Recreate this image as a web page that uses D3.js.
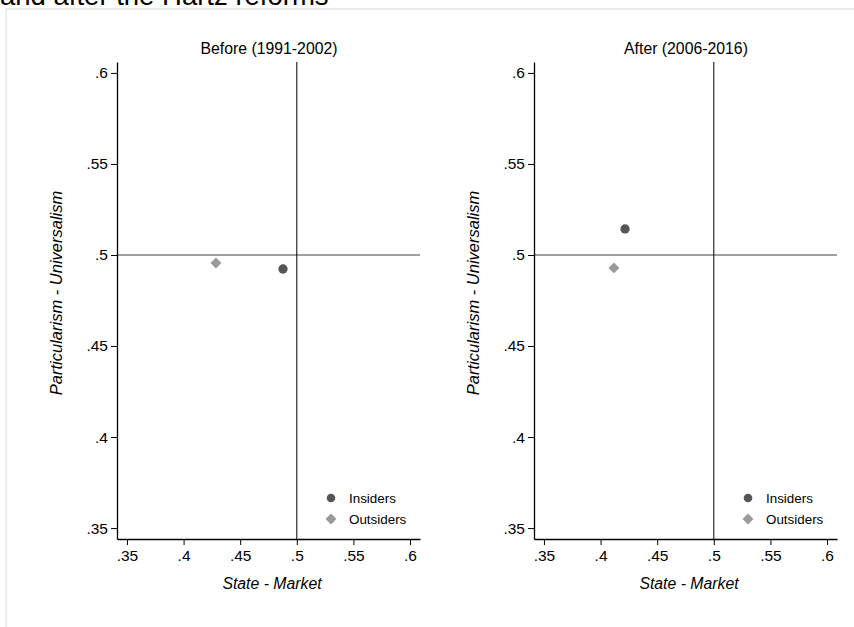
<!DOCTYPE html>
<html>
<head>
<meta charset="utf-8">
<script src="https://cdn.jsdelivr.net/npm/d3@7"></script>
<style>
html,body{margin:0;padding:0;background:#fff;}
svg{display:block;font-family:"Liberation Sans",Arial,sans-serif;}
</style>
</head>
<body>
<svg id="chart" width="854" height="627"></svg>
<script>
// Data
const panels = ["Before (1991-2002)", "After (2006-2016)"];
const groups = ["Insiders", "Outsiders"];
const stateMarket = [[0.4878, 0.4286], [0.4216, 0.4118]];          // x values per panel [Insiders, Outsiders]
const particUniv = [[0.4923, 0.4956], [0.5143, 0.4929]];           // y values per panel
const xTicks = [0.35, 0.4, 0.45, 0.5, 0.55, 0.6];
const yTicks = [0.35, 0.4, 0.45, 0.5, 0.55, 0.6];
const xTitle = "State - Market";
const yTitle = "Particularism - Universalism";
const mainTitle = "and after the Hartz reforms";

(function () {
const svg = d3.select("#chart");
const fmt = d => String(d).replace(/^0/, "");
const colors = {Insiders: "#555555", Outsiders: "#9a9a9a"};

// outer frame
svg.append("rect").attr("x", 6).attr("y", 9).attr("width", 1000).attr("height", 700)
  .attr("fill", "none").attr("stroke", "#e6e6e6").attr("stroke-width", 1.5);

// main title (cut off at top, as in the reference)
svg.append("text").attr("x", 0).attr("y", 5).attr("font-size", 27.5).attr("fill", "#000").text(mainTitle);

const panelLeft = [117, 534];
const pw = 303, plotTop = 62, plotBottom = 539;

panels.forEach((title, pi) => {
  const left = panelLeft[pi];
  const x = d3.scaleLinear().domain([0.3412, 0.6088]).range([left, left + pw]);
  const y = d3.scaleLinear().domain([0.344, 0.606]).range([plotBottom, plotTop]);
  const g = svg.append("g");

  // reference lines
  g.append("line").attr("x1", left).attr("x2", left + pw).attr("y1", y(0.5)).attr("y2", y(0.5))
    .attr("stroke", "#808080").attr("stroke-width", 1.5);
  g.append("line").attr("x1", x(0.5)).attr("x2", x(0.5)).attr("y1", plotTop).attr("y2", plotBottom)
    .attr("stroke", "#000").attr("stroke-width", 1);

  // axes
  const xa = g.append("g").attr("transform", `translate(0,${plotBottom})`)
    .call(d3.axisBottom(x).tickValues(xTicks).tickFormat(fmt).tickSize(6).tickPadding(5).tickSizeOuter(0));
  const ya = g.append("g").attr("transform", `translate(${left},0)`)
    .call(d3.axisLeft(y).tickValues(yTicks).tickFormat(fmt).tickSize(6).tickPadding(3).tickSizeOuter(0));
  [xa, ya].forEach(a => {
    a.selectAll("text").attr("font-size", 15.5).attr("fill", "#000").attr("font-family", '"Liberation Sans",Arial,sans-serif');
    a.select(".domain").attr("stroke", "#000").attr("stroke-width", 1.3);
    a.selectAll(".tick line").attr("stroke", "#000");
  });

  // panel title
  g.append("text").attr("x", left + 152).attr("y", 54).attr("text-anchor", "middle")
    .attr("font-size", 15.8).attr("fill", "#000").text(title);
  // axis titles
  g.append("text").attr("x", left + 155).attr("y", 589).attr("text-anchor", "middle")
    .attr("font-size", 15.8).attr("font-style", "italic").attr("fill", "#000").text(xTitle);
  g.append("text").attr("transform", `translate(${left - 55},${293}) rotate(-90)`).attr("text-anchor", "middle")
    .attr("font-size", 16.5).attr("font-style", "italic").attr("fill", "#000").text(yTitle);

  // points
  groups.forEach((grp, gi) => {
    const px = x(stateMarket[pi][gi]), py = y(particUniv[pi][gi]);
    const sym = grp === "Insiders" ? d3.symbolCircle : d3.symbolDiamond2;
    const size = grp === "Insiders" ? 68 : 76;
    g.append("path").attr("d", d3.symbol().type(sym).size(size)())
      .attr("transform", `translate(${px},${py})`).attr("fill", colors[grp]);
  });

  // legend
  groups.forEach((grp, gi) => {
    const ly = 498 + gi * 21;
    const sym = grp === "Insiders" ? d3.symbolCircle : d3.symbolDiamond2;
    const size = grp === "Insiders" ? 58 : 76;
    g.append("path").attr("d", d3.symbol().type(sym).size(size)())
      .attr("transform", `translate(${left + 214},${ly})`).attr("fill", colors[grp]);
    g.append("text").attr("x", left + 232).attr("y", ly + 5).attr("font-size", 13.4)
      .attr("fill", "#000").text(grp);
  });
});
})();
</script>
</body>
</html>
